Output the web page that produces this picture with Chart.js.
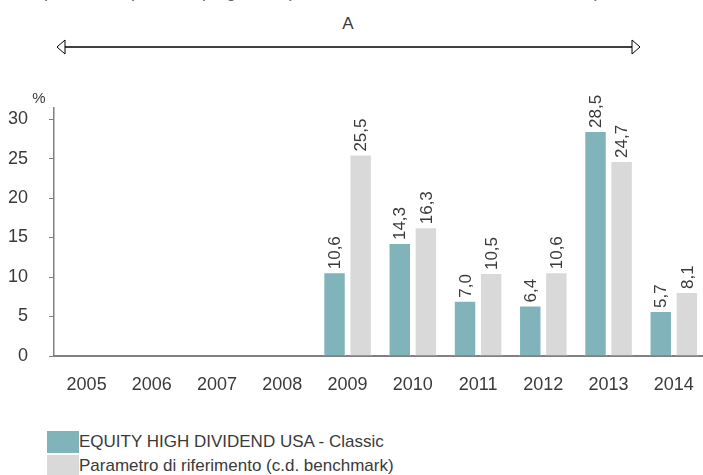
<!DOCTYPE html>
<html lang="it">
<head>
<meta charset="utf-8">
<script src="https://cdn.jsdelivr.net/npm/chart.js@4/dist/chart.umd.min.js"></script>
<style>
  html, body { margin: 0; padding: 0; background: #fff; }
  body { width: 703px; height: 475px; overflow: hidden; position: relative; font-family: 'Liberation Sans', Arial, sans-serif; color: #333; }
  #wrap { position: absolute; left: 0; top: 0; width: 712px; height: 400px; }
  #cut { position: absolute; left: 38px; top: -19px; font-size: 18px; color: #666; white-space: nowrap; }
  #arrow { position: absolute; left: 0; top: 0; }
  .legend { position: absolute; left: 47px; font-size: 17px; color: #3a3a3a; height: 22px; line-height: 22px; padding-left: 32px; white-space: nowrap; }
  .legend i { position: absolute; left: 0; top: 0; width: 32px; height: 22px; }
</style>
</head>
<body>
<div id="cut">questo comparto in quegli anni presentava caratteristiche diverse da quelle attuali</div>
<svg id="arrow" width="703" height="70">
  <text x="348" y="29" text-anchor="middle" font-size="17" fill="#3a3a3a" font-family="Liberation Sans, Arial, sans-serif">A</text>
  <line x1="65" y1="47" x2="632" y2="47" stroke="#000" stroke-width="1.5"/>
  <polygon points="57,47 65,40 65,54" fill="#fff" stroke="#000" stroke-width="1"/>
  <polygon points="640,47 632,40 632,54" fill="#fff" stroke="#000" stroke-width="1"/>
</svg>
<div id="wrap"><canvas id="chart" width="712" height="400"></canvas></div>
<div class="legend" style="top:431px"><i style="background:#80b4ba"></i>EQUITY HIGH DIVIDEND USA - Classic</div>
<div class="legend" style="top:455px"><i style="background:#d9d9d9"></i>Parametro di riferimento (c.d. benchmark)</div>

<script>
// ── Dati ──────────────────────────────────────────────────────────────────────
const years     = ['2005', '2006', '2007', '2008', '2009', '2010', '2011', '2012', '2013', '2014'];
const fondo     = [null, null, null, null, 10.6, 14.3, 7.0, 6.4, 28.5, 5.7];
const benchmark = [null, null, null, null, 25.5, 16.3, 10.5, 10.6, 24.7, 8.1];
const yTicks    = [0, 5, 10, 15, 20, 25, 30];

const FONT = "'Liberation Sans', Arial, sans-serif";
const fmtIt = v => v.toFixed(1).replace('.', ',');

// Etichette verticali sopra le barre
const valueLabels = {
  id: 'valueLabels',
  afterDatasetsDraw(chart) {
    const ctx = chart.ctx;
    ctx.save();
    ctx.font = `17px ${FONT}`;
    ctx.fillStyle = '#3a3a3a';
    ctx.textAlign = 'left';
    ctx.textBaseline = 'middle';
    chart.data.datasets.forEach((ds, i) => {
      chart.getDatasetMeta(i).data.forEach((bar, j) => {
        const v = ds.data[j];
        if (v == null) return;
        ctx.save();
        ctx.translate(bar.x + 1, bar.y - 3);
        ctx.rotate(-Math.PI / 2);
        ctx.fillText(fmtIt(v), 0, 0);
        ctx.restore();
      });
    });
    // simbolo % sopra l'asse
    ctx.font = `15px ${FONT}`;
    ctx.textAlign = 'center';
    ctx.fillText('%', 39, 99);
    ctx.restore();
  },
};

new Chart(document.getElementById('chart'), {
  type: 'bar',
  data: {
    labels: years,
    datasets: [
      { label: 'EQUITY HIGH DIVIDEND USA - Classic', data: fondo, backgroundColor: '#80b4ba', borderColor: '#fff', borderWidth: 1 },
      { label: 'Parametro di riferimento (c.d. benchmark)', data: benchmark, backgroundColor: '#d9d9d9', borderColor: '#fff', borderWidth: 1 },
    ],
  },
  options: {
    responsive: false, animation: false,
    layout: { padding: { top: 108, right: 3.5, left: 0, bottom: 0 } },
    datasets: { bar: { categoryPercentage: 0.8, barPercentage: 0.86 } },
    plugins: { legend: { display: false }, tooltip: { enabled: false } },
    scales: {
      x: {
        grid: { display: false, drawTicks: false },
        border: { color: '#808080', width: 2 },
        ticks: { color: '#3a3a3a', font: { family: FONT, size: 18 }, padding: 18, maxRotation: 0 },
        afterFit: s => { s.height = 44; },
      },
      y: {
        min: 0, max: 31.4,
        grid: { drawOnChartArea: false, drawTicks: true, tickLength: 5, color: '#808080' },
        border: { color: '#808080', width: 1.5 },
        ticks: { color: '#3a3a3a', font: { family: FONT, size: 18 }, padding: 21 },
        afterBuildTicks: s => { s.ticks = yTicks.map(value => ({ value })); },
        afterFit: s => { s.width = 54; },
      },
    },
  },
  plugins: [valueLabels],
});
</script>
</body>
</html>
